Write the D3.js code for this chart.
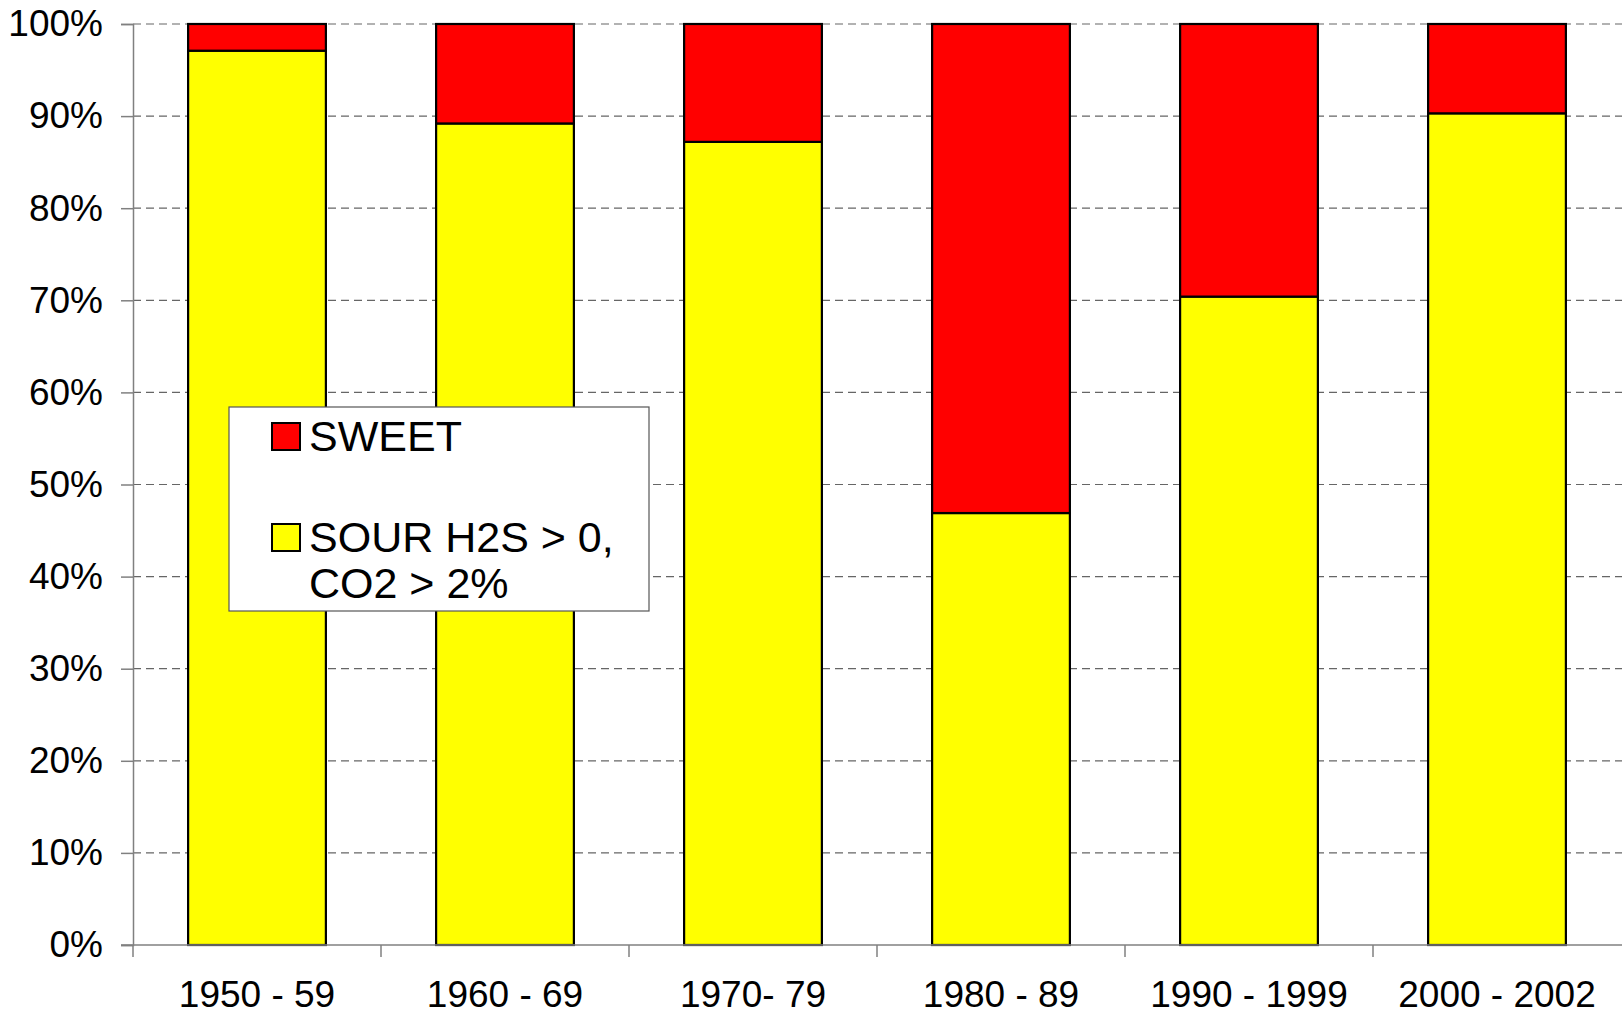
<!DOCTYPE html>
<html>
<head>
<meta charset="utf-8">
<script src="https://cdn.jsdelivr.net/npm/d3@7"></script>
<style>
  body { margin: 0; background: #fff; }
  svg { display: block; font-family: "Liberation Sans", Arial, sans-serif; }
</style>
</head>
<body>
<div class="chart"></div>
<script>
const width = 1622
const height = 1016
const margin = ({top: 24, right: 1, bottom: 71, left: 133})

// data (percent of wells)
const decades = ['1950 - 59', '1960 - 69', '1970- 79', '1980 - 89', '1990 - 1999', '2000 - 2002']
const sour = [97.1, 89.2, 87.2, 46.9, 70.4, 90.3]
const sweet = sour.map(v => 100 - v)
const yTicks = [0, 10, 20, 30, 40, 50, 60, 70, 80, 90, 100]
const seriesNames = ['SWEET', 'SOUR H2S > 0,|CO2 > 2%']
const seriesColors = ['#ff0000', '#ffff00']

const rows = decades.map((d, i) => ({decade: d, sour: sour[i], sweet: sweet[i]}))
const stack = d3.stack().keys(['sour', 'sweet'])(rows)

const svg = d3.select('.chart').append('svg')
    .attr('width', width)
    .attr('height', height)
    .attr('viewBox', [0, 0, width, height])

const x = d3.scaleBand()
    .domain(decades)
    .range([margin.left, width - margin.right])
    .padding(0)

const y = d3.scaleLinear()
    .domain([0, 100])
    .range([height - margin.bottom, margin.top])

const barW = x.bandwidth() / 1.8

// gridlines
svg.append('g')
    .selectAll('line')
    .data(yTicks.filter(t => t > 0))
    .join('line')
    .attr('x1', margin.left)
    .attr('x2', width)
    .attr('y1', d => y(d))
    .attr('y2', d => y(d))
    .attr('stroke', '#666')
    .attr('stroke-width', 1.2)
    .attr('stroke-dasharray', '8,5')

// bars
const colorOf = {sour: '#ffff00', sweet: '#ff0000'}
svg.append('g')
    .selectAll('g')
    .data(stack)
    .join('g')
    .attr('fill', s => colorOf[s.key])
    .selectAll('rect')
    .data(s => s)
    .join('rect')
    .attr('x', d => x(d.data.decade) + (x.bandwidth() - barW) / 2)
    .attr('width', barW)
    .attr('y', d => y(d[1]))
    .attr('height', d => y(d[0]) - y(d[1]))
    .attr('stroke', '#000')
    .attr('stroke-width', 2.2)

// y axis
const yAxis = svg.append('g')
    .attr('transform', `translate(${margin.left},0)`)
    .call(d3.axisLeft(y).tickValues(yTicks).tickSize(12).tickPadding(18).tickFormat(d => d + '%'))
yAxis.select('.domain').attr('stroke', '#808080').attr('stroke-width', 1.5)
yAxis.selectAll('.tick line').attr('stroke', '#808080').attr('stroke-width', 1.5)
yAxis.selectAll('.tick text')
    .attr('font-size', 37)
    .attr('font-family', '"Liberation Sans", Arial, sans-serif')
    .attr('fill', '#000')

// x axis
const xAxis = svg.append('g')
    .attr('transform', `translate(0,${height - margin.bottom})`)
    .call(d3.axisBottom(x).tickSize(0).tickPadding(36))
xAxis.select('.domain').remove()
xAxis.append('line')
    .attr('x1', margin.left - 12).attr('x2', width)
    .attr('stroke', '#808080').attr('stroke-width', 1.5)
xAxis.selectAll('.tick text')
    .attr('font-size', 37)
    .attr('font-family', '"Liberation Sans", Arial, sans-serif')
    .attr('fill', '#000')
xAxis.append('g')
    .selectAll('line')
    .data(decades)
    .join('line')
    .attr('x1', d => x(d)).attr('x2', d => x(d))
    .attr('y1', 0).attr('y2', 12)
    .attr('stroke', '#808080').attr('stroke-width', 1.5)

// legend
const legend = svg.append('g').attr('transform', 'translate(229,407)')
legend.append('rect')
    .attr('width', 420).attr('height', 204)
    .attr('fill', '#fff').attr('stroke', '#555').attr('stroke-width', 1.2)

const items = legend.selectAll('g.item')
    .data(seriesNames)
    .join('g')
    .attr('class', 'item')
    .attr('transform', (d, i) => `translate(0,${i * 101})`)
items.append('rect')
    .attr('x', 43).attr('y', 16)
    .attr('width', 28).attr('height', 27)
    .attr('fill', (d, i) => seriesColors[i])
    .attr('stroke', '#000').attr('stroke-width', 2)
items.append('text')
    .attr('font-size', 43)
    .attr('fill', '#000')
    .selectAll('tspan')
    .data(d => d.split('|'))
    .join('tspan')
    .attr('x', 80)
    .attr('y', (d, i) => 44 + i * 46)
    .text(d => d)
</script>
</body>
</html>
